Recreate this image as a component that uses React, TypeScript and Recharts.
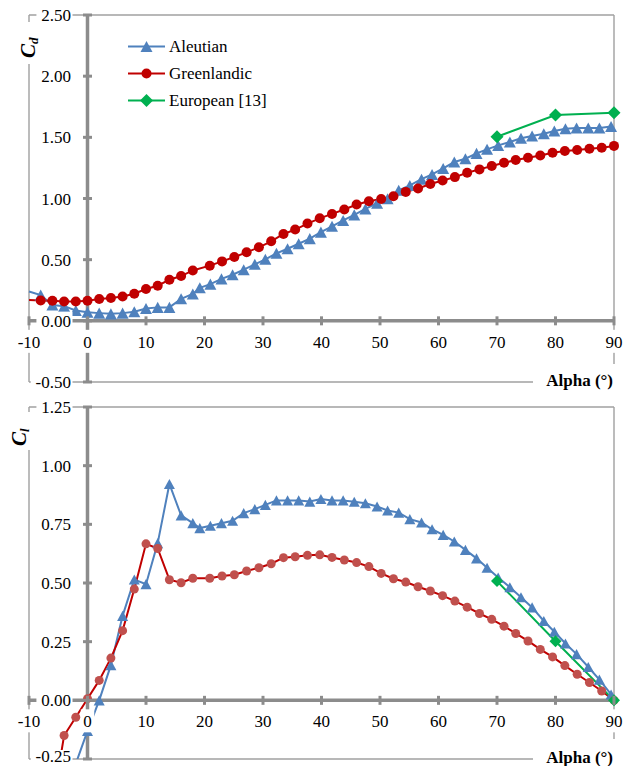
import React from 'react';
import {
  LineChart,
  Line,
  XAxis,
  YAxis,
  CartesianGrid,
  ReferenceLine,
  ReferenceDot,
  Legend,
} from 'recharts';

const FONT = '"Liberation Serif", Tinos, "DejaVu Serif", "Noto Serif", serif';
const FS = 17;
const BLUE = '#4F81BD';
const RED = '#C00000';
const RED_LIGHT = '#C0504D';
const GREEN = '#00B050';
const GRID = '#a0a0a0';
const AXIS = '#8c8c8c';

const alphaTicks = [-10, 0, 10, 20, 30, 40, 50, 60, 70, 80, 90];
const cdTicks = [-0.5, 0, 0.5, 1, 1.5, 2, 2.5];
const clTicks = [-0.25, 0, 0.25, 0.5, 0.75, 1, 1.25];

// Aleutian (measured angles)
const aleutianAlpha = [
  -10, -8, -6, -4, -2, 0, 2, 4, 6, 8, 10, 12, 14, 16, 18, 19.2, 21, 22.9, 24.8, 26.7,
  28.6, 30.4, 32.3, 34.2, 36.1, 38, 39.9, 41.8, 43.7, 45.6, 47.5, 49.5, 51.3, 53.2, 55.1,
  57.1, 58.9, 60.8, 62.7, 64.6, 66.5, 68.3, 70.2, 72.2, 74.1, 76, 78, 79.8, 81.7, 83.6,
  85.6, 87.5, 89.5,
];
const aleutianCd = [
  0.24, 0.21, 0.13, 0.12, 0.085, 0.07, 0.063, 0.057, 0.063, 0.074, 0.1, 0.11, 0.11, 0.18,
  0.22, 0.27, 0.3, 0.343, 0.377, 0.418, 0.462, 0.503, 0.552, 0.589, 0.63, 0.672, 0.725,
  0.773, 0.821, 0.866, 0.915, 0.962, 0.998, 1.067, 1.107, 1.158, 1.197, 1.246, 1.298,
  1.325, 1.369, 1.402, 1.434, 1.462, 1.492, 1.511, 1.53, 1.552, 1.571, 1.576, 1.576,
  1.576, 1.588,
];
const aleutianCl = [
  null, null, null, null, -0.27, -0.13, 0.0, 0.15, 0.36, 0.515, 0.495, 0.67, 0.922, 0.788,
  0.755, 0.734, 0.744, 0.755, 0.765, 0.798, 0.815, 0.833, 0.852, 0.852, 0.852, 0.847,
  0.858, 0.852, 0.852, 0.846, 0.84, 0.826, 0.809, 0.8, 0.772, 0.758, 0.729, 0.705, 0.677,
  0.641, 0.605, 0.565, 0.523, 0.482, 0.439, 0.396, 0.338, 0.292, 0.242, 0.197, 0.142,
  0.088, 0.025,
];

// Greenlandic
const greenlandicAlpha = [
  -10, -8, -6, -4, -2, 0, 2, 4, 6, 8, 10, 12, 14, 16, 18, 20.9, 23, 25.1, 27.2, 29.3,
  31.4, 33.5, 35.5, 37.6, 39.7, 41.8, 43.9, 46, 48.1, 50.2, 52.3, 54.4, 56.5, 58.6, 60.7,
  62.8, 64.9, 67, 69.1, 71.2, 73.2, 75.3, 77.4, 79.5, 81.6, 83.7, 85.8, 87.9, 90,
];
const greenlandicCd = [
  0.17, 0.166, 0.164, 0.158, 0.158, 0.164, 0.178, 0.186, 0.199, 0.221, 0.26, 0.287, 0.336,
  0.366, 0.412, 0.451, 0.486, 0.522, 0.56, 0.601, 0.65, 0.71, 0.746, 0.795, 0.838, 0.874,
  0.91, 0.951, 0.978, 0.996, 1.019, 1.054, 1.082, 1.118, 1.147, 1.175, 1.21, 1.238, 1.265,
  1.292, 1.314, 1.333, 1.352, 1.374, 1.388, 1.396, 1.407, 1.415, 1.43,
];
const greenlandicCl = [
  null, null, -0.45, -0.15, -0.072, 0.007, 0.085, 0.18, 0.297, 0.474, 0.667, 0.647, 0.514,
  0.501, 0.52, 0.52, 0.53, 0.535, 0.551, 0.565, 0.582, 0.608, 0.612, 0.618, 0.62, 0.609,
  0.598, 0.587, 0.57, 0.541, 0.518, 0.504, 0.484, 0.466, 0.446, 0.423, 0.397, 0.37, 0.345,
  0.316, 0.285, 0.253, 0.217, 0.185, 0.148, 0.111, 0.076, 0.04, 0,
];

// European [13]
const europeanAlpha = [70, 80, 90];
const europeanCd = [1.505, 1.683, 1.7];
const europeanCl = [0.508, 0.252, 0];

const seriesNames = ['Aleutian', 'Greenlandic', 'European [13]'];

const zip = (alpha: number[], v: (number | null)[]) => alpha.map((a, i) => ({ alpha: a, v: v[i] }));

const marker = (shape: string, fill: string, size: number, cx: number, cy: number, key?: any) => {
  if (shape === 'triangle') {
    const h = size * 0.92;
    return (
      <polygon
        key={key}
        points={`${cx},${cy - h / 2} ${cx + size / 2},${cy + h / 2} ${cx - size / 2},${cy + h / 2}`}
        fill={fill}
      />
    );
  }
  if (shape === 'diamond') {
    const r = size / 2;
    return (
      <polygon key={key} points={`${cx},${cy - r} ${cx + r},${cy} ${cx},${cy + r} ${cx - r},${cy}`} fill={fill} />
    );
  }
  return <circle key={key} cx={cx} cy={cy} r={size / 2} fill={fill} />;
};

const makeDot = (shape: string, fill: string, size: number, yMin: number) => (p: any) => {
  const { cx, cy, index, payload } = p;
  if (cx == null || cy == null || payload == null || payload.v == null || payload.alpha < -9 || payload.v < yMin) {
    return <g key={`d${index}`} />;
  }
  return marker(shape, fill, size, cx, cy, `d${index}`);
};

const textWidth = (s: string) =>
  s.split('').reduce((w, c) => w + (c === '.' ? 0.278 : c === '-' ? 0.333 : 0.556), 0) * FS;

const xTickShape = (label: string) => (p: any) => {
  const w = textWidth(label);
  return (
    <g>
      <line x1={p.cx} x2={p.cx} y1={p.cy - 4.5} y2={p.cy + 4.5} stroke={AXIS} strokeWidth={3} />
      <rect x={p.cx - w / 2 - 2} y={p.cy + 9} width={w + 4} height={23} fill="#fff" />
      <text x={p.cx} y={p.cy + 27} textAnchor="middle" fontFamily={FONT} fontSize={FS} fill="#000">
        {label}
      </text>
    </g>
  );
};

// maxBase keeps the lowest label inside the chart's own svg
const yTickShape = (label: string, maxBase: number) => (p: any) => {
  const w = textWidth(label);
  const right = p.cx - 16.5;
  return (
    <g>
      <line x1={p.cx - 4.5} x2={p.cx + 4.5} y1={p.cy} y2={p.cy} stroke={AXIS} strokeWidth={3} />
      <rect x={right - w - 1.5} y={p.cy - 9} width={w + 3} height={18} fill="#fff" />
      <text x={right} y={Math.min(p.cy + 6, maxBase)} textAnchor="end" fontFamily={FONT} fontSize={FS} fill="#000">
        {label}
      </text>
    </g>
  );
};

const legendShapes: Record<string, [string, string]> = {
  Aleutian: ['triangle', BLUE],
  Greenlandic: ['circle', RED],
  'European [13]': ['diamond', GREEN],
};

const LegendBox = () => (
  <div style={{ background: '#fff', width: 180, height: 80, fontFamily: FONT, fontSize: FS, color: '#000' }}>
    {seriesNames.map((name) => {
      const [shape, color] = legendShapes[name];
      return (
        <div key={name} style={{ height: 27, display: 'flex', alignItems: 'center' }}>
          <svg width={57} height={27}>
            <line x1={16} x2={53} y1={13.5} y2={13.5} stroke={color} strokeWidth={2} />
            {marker(shape, color, shape === 'circle' ? 10 : shape === 'diamond' ? 13 : 12, 34.5, 13.5)}
          </svg>
          <span style={{ lineHeight: '27px' }}>{name}</span>
        </div>
      );
    })}
  </div>
);

const fmt2 = (v: number) => v.toFixed(2);

export default function App() {
  return (
    <div style={{ position: 'absolute', left: 0, top: 0, width: 634, height: 766, background: '#fff', fontFamily: FONT }}>
      <div style={{ position: 'absolute', left: 0, top: 0 }}>
        <LineChart width={634} height={400} margin={{ top: 15, right: 20, bottom: 18, left: 29 }}>
          <CartesianGrid stroke={GRID} strokeWidth={1.4} />
          <XAxis
            dataKey="alpha"
            type="number"
            domain={[-10, 90]}
            ticks={alphaTicks}
            height={0}
            tick={false}
            axisLine={false}
            tickLine={false}
          />
          <YAxis
            type="number"
            domain={[-0.5, 2.5]}
            ticks={cdTicks}
            width={0}
            tick={false}
            axisLine={false}
            tickLine={false}
          />
          <ReferenceLine y={0} stroke={AXIS} strokeWidth={3.5} zIndex={-50} />
          <ReferenceLine x={0} stroke={AXIS} strokeWidth={3.5} zIndex={-50} />
          <Legend
            layout="vertical"
            align="center"
            verticalAlign="middle"
            wrapperStyle={{ left: 112, top: 33, width: 180, height: 80 }}
            content={LegendBox}
          />
          <Line
            data={zip(aleutianAlpha, aleutianCd)}
            dataKey="v"
            name="Aleutian"
            stroke={BLUE}
            strokeWidth={2}
            dot={makeDot('triangle', BLUE, 12, -0.5)}
            isAnimationActive={false}
          />
          <Line
            data={zip(greenlandicAlpha, greenlandicCd)}
            dataKey="v"
            name="Greenlandic"
            stroke={RED}
            strokeWidth={2}
            dot={makeDot('circle', RED, 10, -0.5)}
            isAnimationActive={false}
          />
          <Line
            data={zip(europeanAlpha, europeanCd)}
            dataKey="v"
            name="European [13]"
            stroke={GREEN}
            strokeWidth={2}
            dot={makeDot('diamond', GREEN, 13, -0.5)}
            isAnimationActive={false}
          />
          {alphaTicks.map((t) => (
            <ReferenceDot key={`x${t}`} x={t} y={0} r={0} ifOverflow="visible" shape={xTickShape(String(t))} zIndex={2500} />
          ))}
          {cdTicks.map((t) => (
            <ReferenceDot key={`y${t}`} x={0} y={t} r={0} ifOverflow="visible" shape={yTickShape(fmt2(t), 396)} zIndex={2500} />
          ))}
        </LineChart>
      </div>

      <div style={{ position: 'absolute', left: 0, top: 390 }}>
        <LineChart width={634} height={376} margin={{ top: 17, right: 20, bottom: 7, left: 29 }}>
          <CartesianGrid stroke={GRID} strokeWidth={1.4} />
          <XAxis
            dataKey="alpha"
            type="number"
            domain={[-10, 90]}
            ticks={alphaTicks}
            height={0}
            tick={false}
            axisLine={false}
            tickLine={false}
          />
          <YAxis
            type="number"
            domain={[-0.25, 1.25]}
            ticks={clTicks}
            allowDataOverflow
            width={0}
            tick={false}
            axisLine={false}
            tickLine={false}
          />
          <YAxis yAxisId="g" type="number" domain={[-0.25, 1.25]} hide />
          <ReferenceLine y={0} stroke={AXIS} strokeWidth={3.5} zIndex={-50} />
          <ReferenceLine x={0} stroke={AXIS} strokeWidth={3.5} zIndex={-50} />
          <Line
            data={zip(aleutianAlpha, aleutianCl)}
            dataKey="v"
            name="Aleutian"
            stroke={BLUE}
            strokeWidth={2}
            dot={makeDot('triangle', BLUE, 11, -0.25)}
            isAnimationActive={false}
          />
          <Line
            data={zip(greenlandicAlpha, greenlandicCl)}
            dataKey="v"
            name="Greenlandic"
            stroke={RED}
            strokeWidth={2}
            dot={makeDot('circle', RED_LIGHT, 9, -0.25)}
            isAnimationActive={false}
          />
          <Line
            yAxisId="g"
            data={zip(europeanAlpha, europeanCl)}
            dataKey="v"
            name="European [13]"
            stroke={GREEN}
            strokeWidth={2}
            dot={makeDot('diamond', GREEN, 12, -0.25)}
            isAnimationActive={false}
          />
          {alphaTicks.map((t) => (
            <ReferenceDot key={`x${t}`} x={t} y={0} r={0} ifOverflow="visible" shape={xTickShape(String(t))} zIndex={2500} />
          ))}
          {clTicks.map((t) => (
            <ReferenceDot key={`y${t}`} x={0} y={t} r={0} ifOverflow="visible" shape={yTickShape(fmt2(t), 372)} zIndex={2500} />
          ))}
        </LineChart>
      </div>

      <svg
        width={634}
        height={766}
        style={{ position: 'absolute', left: 0, top: 0, pointerEvents: 'none' }}
      >
        <rect x={17} y={22} width={22} height={42} fill="#fff" />
        <text
          transform="translate(35,58) rotate(-90)"
          fontFamily={FONT}
          fontSize={21}
          fontStyle="italic"
          fontWeight="bold"
          fill="#000"
        >
          C<tspan fontSize={13} dy={3}>d</tspan>
        </text>
        <rect x={8} y={412} width={22} height={38} fill="#fff" />
        <text
          transform="translate(26,446) rotate(-90)"
          fontFamily={FONT}
          fontSize={21}
          fontStyle="italic"
          fontWeight="bold"
          fill="#000"
        >
          C<tspan fontSize={13} dy={3}>l</tspan>
        </text>
        <rect x={533} y={364} width={90} height={33} fill="#fff" />
        <text x={613} y={386} textAnchor="end" fontFamily={FONT} fontSize={FS} fontWeight="bold" fill="#000">
          Alpha (°)
        </text>
        <rect x={533} y={739} width={90} height={27} fill="#fff" />
        <text x={613} y={763} textAnchor="end" fontFamily={FONT} fontSize={FS} fontWeight="bold" fill="#000">
          Alpha (°)
        </text>
      </svg>
    </div>
  );
}
